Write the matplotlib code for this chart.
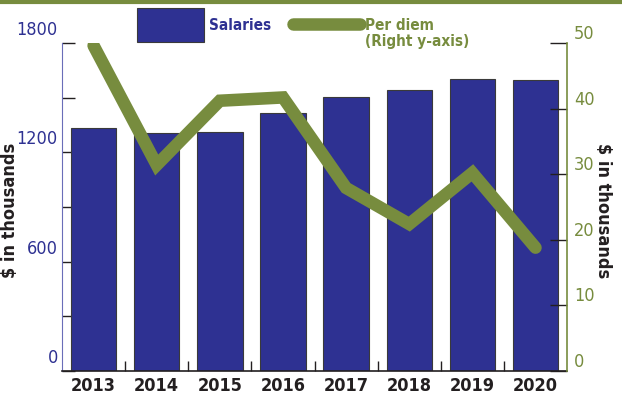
import matplotlib.pyplot as plt
from matplotlib.lines import Line2D
from matplotlib.patches import Rectangle
from matplotlib.legend_handler import HandlerPatch
from matplotlib.transforms import ScaledTranslation
import numpy as np

plt.rcParams['font.family'] = ['DejaVu Sans']
plt.rcParams['font.stretch'] = 'condensed'

years = ['2013', '2014', '2015', '2016', '2017', '2018', '2019', '2020']
salaries = [1333, 1306, 1312, 1416, 1504, 1542, 1603, 1598]
per_diem = [49.6, 31.4, 41.2, 41.7, 27.9, 22.4, 30.2, 18.8]

BLUE = '#2e3192'
GREEN = '#778c3e'
DARK = '#231f20'

fig = plt.figure(figsize=(6.22, 4.0), dpi=100)
ax = fig.add_axes([0.0997, 0.0725, 0.812, 0.82])
ax2 = ax.twinx()

x = np.arange(len(years))
bars = ax.bar(x, salaries, width=0.72, color=BLUE, edgecolor='#3a3a3a', linewidth=0.8,
              label='Salaries', zorder=2)
line, = ax2.plot(x, per_diem, color=GREEN, lw=9, solid_capstyle='round',
                 solid_joinstyle='miter', label='Per diem', zorder=3)

ax.set_xlim(-0.5, len(years) - 0.5)
ax.set_ylim(0, 1800)
ax2.set_ylim(0, 50)

# x axis: labels centered, ticks between bars
ax.set_xticks(x)
ax.set_xticklabels(years, fontsize=13, color=DARK, fontweight='bold')
ax.tick_params(axis='x', length=0, pad=4)
ax.set_xticks(x[:-1] + 0.5, minor=True)
ax.tick_params(axis='x', which='minor', direction='in', length=7, width=1, color=DARK)

# left axis
ax.set_yticks(np.arange(0, 1801, 300))
ax.set_yticklabels(['0', '', '600', '', '1200', '', '1800'])
ax.tick_params(axis='y', direction='in', length=9, width=1, color=DARK,
               labelcolor=BLUE, labelsize=13, pad=3)
lift = ScaledTranslation(0, 3 / 72, fig.dpi_scale_trans)
for lbl in ax.get_yticklabels():
    lbl.set_va('bottom')
    lbl.set_transform(lbl.get_transform() + lift)

# right axis
ax2.set_yticks(np.arange(0, 51, 10))
ax2.tick_params(axis='y', direction='in', length=12, width=1, color=DARK,
                labelcolor=GREEN, labelsize=13, pad=5)
for lbl in ax2.get_yticklabels():
    lbl.set_va('bottom')

for a in (ax, ax2):
    a.spines['top'].set_visible(False)
ax.spines['left'].set_color('#6a6db8')
ax.spines['right'].set_visible(False)
ax2.spines['left'].set_visible(False)
ax2.spines['right'].set_color(GREEN)
ax2.spines['right'].set_linewidth(1.2)
ax.spines['bottom'].set_color(DARK)
ax.spines['bottom'].set_linewidth(1.2)
ax2.spines['bottom'].set_visible(False)

ax.set_ylabel('$ in thousands', fontsize=13, fontweight='bold', color=DARK)
ax.yaxis.set_label_coords(-0.085, 0.49)
ax2.set_ylabel('$ in thousands', fontsize=13, fontweight='bold', color=DARK, rotation=270)
ax2.yaxis.set_label_coords(1.088, 0.49)


def tall_patch(legend, orig_handle, xdescent, ydescent, width, height, fontsize):
    # legend box for the bars is taller than the text row
    extra = 0.7 * fontsize
    return Rectangle((-xdescent, -ydescent - extra), width, height + 2 * extra)


bar_handle = bars.patches[0]
leg = ax.legend([bar_handle, line], ['Salaries', 'Per diem'], ncol=2,
                loc='upper left', bbox_to_anchor=(0.136, 1.095), frameon=False,
                fontsize=11, handlelength=4.4, handleheight=0.9, handletextpad=0.35,
                columnspacing=1.4, borderaxespad=0,
                handler_map={Rectangle: HandlerPatch(patch_func=tall_patch)})
for txt, col in zip(leg.get_texts(), [BLUE, GREEN]):
    txt.set_color(col)
    txt.set_fontweight('bold')

# second line of the per diem legend entry, drawn after the legend
ax.annotate('(Right y-axis)', xy=(0, 0), xycoords=leg.get_texts()[1],
            xytext=(0, -1), textcoords='offset points', ha='left', va='top',
            fontsize=11, fontweight='bold', color=GREEN, zorder=10)

# green rule across the top
fig.add_artist(Line2D([0, 1], [0.996, 0.996], transform=fig.transFigure,
                      color=GREEN, lw=3))

plt.savefig('out.png', dpi=100)
